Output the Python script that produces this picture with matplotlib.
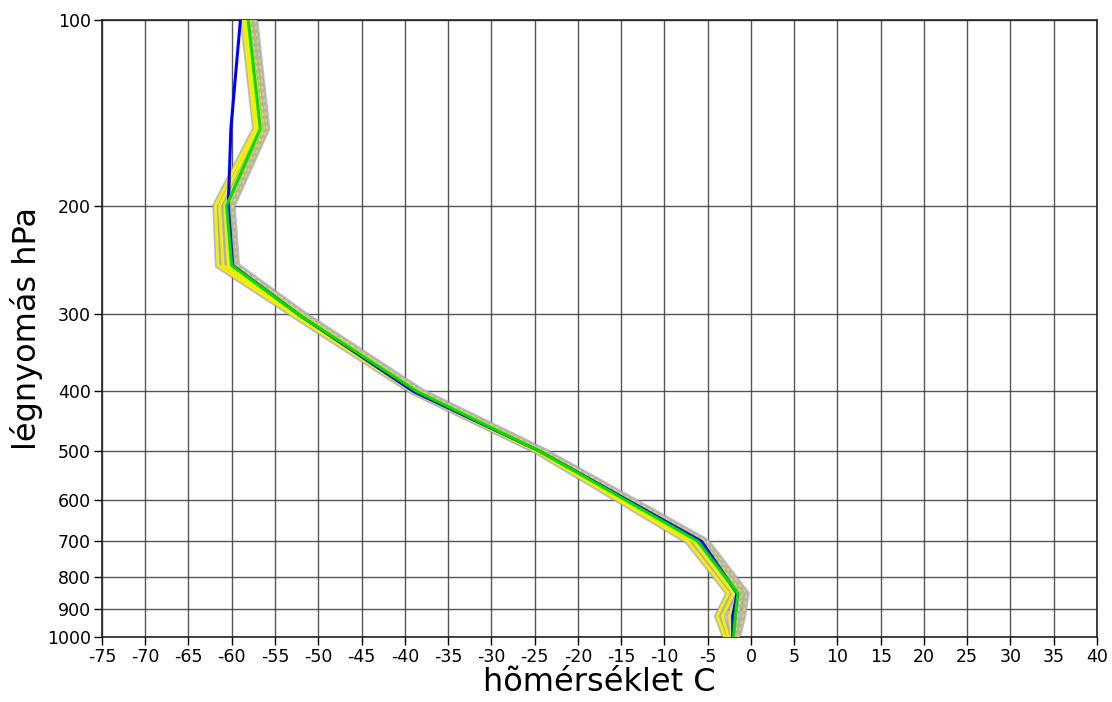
#!/usr/bin/env python3
"""Temperature profile (ensemble) on a log-pressure axis."""
import matplotlib
matplotlib.use("Agg")
import matplotlib.pyplot as plt
from matplotlib.ticker import FixedLocator, NullLocator

LEVELS = [1000, 925, 850, 700, 500, 400, 300, 250, 200, 150, 100]

# ensemble members, coldest to warmest (degC at LEVELS)
MEMBERS = [
    [-3.0, -3.9, -2.6, -7.3, -24.8, -39.2, -53.0, -61.6, -61.9, -57.3, -58.7],
    [-2.6, -3.3, -2.0, -6.6, -24.6, -38.9, -52.6, -61.0, -61.4, -57.0, -58.4],
    [-2.2, -2.5, -1.5, -6.0, -24.3, -38.6, -52.2, -60.4, -60.8, -56.6, -58.1],
    [-1.8, -1.6, -1.0, -5.5, -24.1, -38.3, -51.9, -59.9, -60.3, -56.2, -57.8],
    [-1.5, -0.9, -0.5, -5.1, -23.8, -38.0, -51.6, -59.4, -59.9, -55.9, -57.3],
]
ENS_MEAN = [-2.0, -1.8, -1.5, -6.1, -24.4, -38.6, -52.3, -60.0, -60.6, -56.7, -58.1]
CONTROL = [-2.1, -2.1, -1.6, -5.7, -24.4, -39.0, -52.3, -59.9, -60.4, -60.1, -59.0]

X_TICKS = list(range(-75, 41, 5))
Y_TICKS = [100, 200, 300, 400, 500, 600, 700, 800, 900, 1000]

plt.rcParams.update({
    "font.family": ["DejaVu Sans"],
    "axes.unicode_minus": False,
})

fig = plt.figure(figsize=(11.12, 7.02), dpi=100)
ax = fig.add_axes([0.0917, 0.0926, 0.8948, 0.879])

# member envelope: purple outline, gray body, yellow dashes
for m in MEMBERS:
    ax.plot(m, LEVELS, color="#8c8cf0", lw=4.5, alpha=0.6, solid_joinstyle="miter", zorder=2)
for m in MEMBERS:
    ax.plot(m, LEVELS, color="#b4b4a0", lw=3.0, zorder=3)
for m in MEMBERS[:3]:
    ax.plot(m, LEVELS, color="#f5f000", lw=2.0, zorder=4)
for m in MEMBERS[3:]:
    ax.plot(m, LEVELS, color="#e0dc40", lw=1.2, ls=(0, (2, 2)), zorder=4)

ax.plot(CONTROL, LEVELS, color="#0000ff", lw=2.2, zorder=5)
ax.plot(ENS_MEAN, LEVELS, color="#00e000", lw=2.2, zorder=6)

ax.set_yscale("log")
ax.set_ylim(1000, 100)
ax.set_xlim(-75, 40)
ax.yaxis.set_major_locator(FixedLocator(Y_TICKS))
ax.yaxis.set_minor_locator(NullLocator())
ax.set_yticklabels([str(v) for v in Y_TICKS])
ax.set_xticks(X_TICKS)
ax.set_xticklabels([str(v) for v in X_TICKS])

ax.grid(True, color="#3a3a3a", lw=1.0, alpha=0.85, zorder=1)
ax.set_axisbelow(True)
ax.tick_params(axis="both", direction="out", length=6, width=1, labelsize=12.5, pad=2)
for s in ax.spines.values():
    s.set_linewidth(1.2)
    s.set_color("#222222")

ax.set_xlabel("hõmérséklet C", fontsize=23, labelpad=1)
ax.set_ylabel("légnyomás hPa", fontsize=23, labelpad=3)

fig.savefig("out.png", dpi=100, facecolor="white")
